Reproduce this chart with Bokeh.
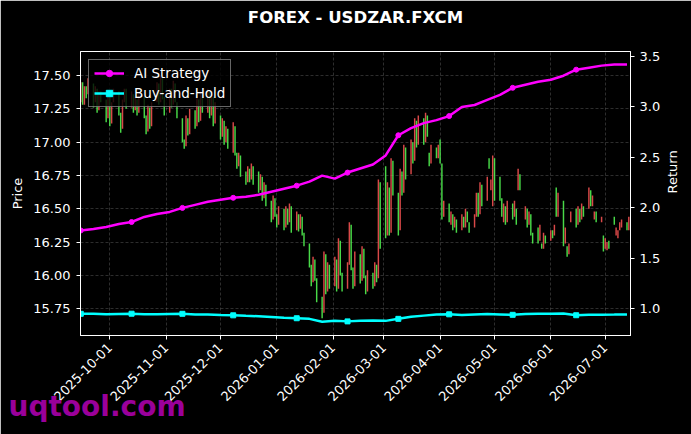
import math
import pandas as pd
from bokeh.plotting import figure
from bokeh.models import (Range1d, LinearAxis, DatetimeTickFormatter, MonthsTicker,
                          Legend, LegendItem, Title, ColumnDataSource,
                          NumeralTickFormatter, SingleIntervalTicker)
from bokeh.embed import file_html
from bokeh.resources import INLINE

# ---------------- data ----------------
title_text = "FOREX - USDZAR.FXCM"
price_label = "Price"
return_label = "Return"
watermark_text = "uqtool.com"

first_trading_day = "2025-09-15"
opens = [
    17.30, 17.45, 17.28, 17.42, 17.36,
    17.44, 17.30, 17.40, 17.24, 17.38,
    17.32, 17.18, 17.34, 17.14, 17.30,
    17.38, 17.22, 17.10, 17.30, 17.40,
    17.26, 17.36, 17.24, 17.32, 17.22,
    17.34, 17.20, 17.08, 17.26, 17.12,
    17.30, 17.44, 17.30, 17.48, 17.34,
    17.22, 17.40, 17.28, 17.44, 17.30,
    17.18, 17.02, 16.97, 17.18, 17.06,
    17.24, 17.12, 17.32, 17.16, 17.36,
    17.22, 17.38, 17.20, 17.34, 17.14,
    17.20, 17.04, 17.16, 17.00, 17.10,
    16.92, 17.12, 16.92, 16.82, 16.90,
    16.78, 16.70, 16.80, 16.72, 16.82,
    16.78, 16.64, 16.74, 16.58, 16.68,
    16.56, 16.42, 16.58, 16.46, 16.38,
    16.50, 16.36, 16.50, 16.40, 16.52,
    16.34, 16.46, 16.35, 16.44, 16.32,
    16.24, 16.08, 15.95, 16.12, 15.98,
    15.84, 15.72, 16.16, 15.88, 16.08,
    15.92, 16.12, 15.90, 16.26, 16.02,
    15.90, 16.08, 16.38, 16.06, 15.92,
    16.16, 15.96, 16.20, 16.00, 15.88,
    16.02, 15.92, 16.08, 15.98, 16.70,
    16.82, 16.30, 16.66, 16.32, 16.86,
    16.62, 16.34, 16.78, 16.62, 16.96,
    16.76, 17.00, 16.86, 17.16, 16.98,
    17.18, 17.00, 17.20, 16.92, 16.84,
    16.96, 16.88, 17.02, 16.84, 16.44,
    16.54, 16.38, 16.46, 16.36, 16.42,
    16.34, 16.44, 16.36, 16.48, 16.40,
    16.36, 16.44, 16.62, 16.46, 16.68,
    16.56, 16.88, 16.64, 16.52, 16.88,
    16.74, 16.58, 16.40, 16.52, 16.40,
    16.54, 16.44, 16.50, 16.64, 16.76,
    16.42, 16.50, 16.38, 16.46, 16.32,
    16.36, 16.26, 16.24, 16.20, 16.30,
    16.26, 16.34, 16.30, 16.66, 16.44,
    16.56, 16.24, 16.22, 16.16, 16.40,
    16.50, 16.38, 16.50, 16.42, 16.52,
    16.50, 16.64, 16.52, 16.42, 16.48,
    16.40, 16.30, 16.20, 16.19, 16.26,
    16.44, 16.30, 16.28, 16.34, 16.36,
    16.40, 16.34,
]
closes = [
    17.45, 17.28, 17.42, 17.33, 17.48,
    17.26, 17.42, 17.22, 17.38, 17.30,
    17.15, 17.36, 17.12, 17.30, 17.40,
    17.20, 17.07, 17.32, 17.40, 17.25,
    17.38, 17.22, 17.34, 17.20, 17.36,
    17.18, 17.06, 17.28, 17.10, 17.30,
    17.45, 17.28, 17.50, 17.32, 17.20,
    17.40, 17.26, 17.46, 17.30, 17.18,
    17.00, 16.95, 17.20, 17.05, 17.25,
    17.10, 17.34, 17.15, 17.38, 17.22,
    17.40, 17.18, 17.36, 17.12, 17.30,
    17.02, 17.18, 16.98, 17.12, 16.95,
    17.15, 16.90, 16.80, 16.92, 16.74,
    16.68, 16.82, 16.70, 16.84, 16.68,
    16.62, 16.76, 16.56, 16.70, 16.52,
    16.40, 16.60, 16.44, 16.36, 16.52,
    16.34, 16.52, 16.38, 16.54, 16.32,
    16.48, 16.33, 16.46, 16.30, 16.22,
    16.06, 15.92, 16.14, 15.96, 15.80,
    15.68, 16.18, 15.86, 16.10, 15.90,
    16.14, 15.88, 16.28, 16.00, 15.88,
    16.10, 16.40, 16.04, 15.90, 16.18,
    15.94, 16.22, 15.98, 15.86, 16.04,
    15.90, 16.10, 15.95, 16.72, 16.20,
    16.28, 16.70, 16.30, 16.88, 16.60,
    16.30, 16.80, 16.60, 16.98, 16.72,
    17.02, 16.84, 17.18, 16.96, 17.20,
    16.98, 17.22, 17.04, 16.82, 16.98,
    16.88, 16.98, 16.84, 16.42, 16.56,
    16.40, 16.48, 16.34, 16.44, 16.32,
    16.46, 16.36, 16.50, 16.40, 16.32,
    16.46, 16.62, 16.44, 16.70, 16.52,
    16.74, 16.80, 16.72, 16.90, 16.56,
    16.56, 16.44, 16.54, 16.38, 16.56,
    16.42, 16.56, 16.38, 16.80, 16.64,
    16.52, 16.36, 16.48, 16.30, 16.24,
    16.24, 16.38, 16.20, 16.32, 16.24,
    16.34, 16.28, 16.38, 16.44, 16.62,
    16.22, 16.36, 16.14, 16.24, 16.48,
    16.36, 16.52, 16.40, 16.54, 16.44,
    16.66, 16.52, 16.60, 16.48, 16.40,
    16.44, 16.18, 16.28, 16.25, 16.20,
    16.38, 16.36, 16.34, 16.40, 16.42,
    16.34, 16.44,
]

first_week = "2025-09-15"
ai_strategy = [
    1.776, 1.79, 1.81, 1.84, 1.86, 1.91, 1.94, 1.96, 2.00, 2.03,
    2.06, 2.08, 2.10, 2.11, 2.13, 2.16, 2.19, 2.22, 2.26, 2.32,
    2.29, 2.35, 2.39, 2.43, 2.52, 2.72, 2.79, 2.84, 2.87, 2.91,
    3.00, 3.02, 3.07, 3.12, 3.19, 3.22, 3.25, 3.27, 3.31, 3.37,
    3.39, 3.41, 3.42, 3.42,
]
buy_and_hold = [
    0.950, 0.950, 0.945, 0.948, 0.951, 0.946, 0.945, 0.948, 0.950, 0.944,
    0.942, 0.938, 0.935, 0.930, 0.926, 0.918, 0.910, 0.906, 0.900, 0.872,
    0.882, 0.875, 0.880, 0.884, 0.880, 0.900, 0.920, 0.932, 0.942, 0.945,
    0.938, 0.944, 0.948, 0.944, 0.940, 0.948, 0.950, 0.950, 0.952, 0.936,
    0.940, 0.941, 0.942, 0.944,
]
marker_weeks = [0, 4, 8, 12, 17, 21, 25, 29, 34, 39]

# ---------------- figure ----------------
days = pd.bdate_range(first_trading_day, periods=len(opens))
weeks = pd.date_range(first_week, periods=len(ai_strategy), freq="7D")

UP = "#ff5555"
DOWN = "#55ff55"
colors = [UP if c > o else DOWN for o, c in zip(opens, closes)]

FONT = "DejaVu Sans"
FW, FH = 550, 284

p = figure(x_axis_type="datetime", frame_width=FW, frame_height=FH,
           x_range=Range1d(pd.Timestamp("2025-09-14 20:24"), pd.Timestamp("2026-07-14 22:20")),
           y_range=Range1d(15.55, 17.68),
           output_backend="svg", toolbar_location=None,
           min_border_left=80, min_border_right=61, min_border_top=51, min_border_bottom=99,
           background_fill_color="black", border_fill_color="black")
p.outline_line_color = "white"
p.outline_line_width = 1

p.title = Title(text=title_text, align="center", vertical_align="bottom", standoff=0,
                text_color="white", text_font=FONT,
                text_font_size="16.5px", text_font_style="bold")
spacer = Title(text=" ", text_font_size="1px", standoff=22, text_color="black")
p.add_layout(spacer, "above")

p.extra_y_ranges = {"ret": Range1d(0.735, 3.55)}
rax = LinearAxis(y_range_name="ret", ticker=SingleIntervalTicker(interval=0.5),
                 formatter=NumeralTickFormatter(format="0.0"), axis_label=return_label)
p.add_layout(rax, "right")

p.yaxis[0].ticker = SingleIntervalTicker(interval=0.25)
p.yaxis[0].formatter = NumeralTickFormatter(format="0.00")
p.yaxis[0].axis_label = price_label

mt = MonthsTicker(months=list(range(12)))
p.xaxis[0].ticker = mt
fmt = "%Y-%m-%d"
p.xaxis[0].formatter = DatetimeTickFormatter(days=fmt, months=fmt, years=fmt, hours=fmt)
p.xaxis[0].major_label_orientation = math.pi / 4

for ax in [p.xaxis[0], p.yaxis[0], rax]:
    ax.axis_line_color = "white"
    ax.major_tick_line_color = "white"
    ax.minor_tick_line_color = None
    ax.major_tick_out = 4
    ax.major_tick_in = 0
    ax.major_label_text_color = "white"
    ax.major_label_text_font = FONT
    ax.major_label_text_font_size = "13px"
    ax.major_label_standoff = 6
    ax.axis_label_text_color = "white"
    ax.axis_label_text_font = FONT
    ax.axis_label_text_font_size = "13px"
    ax.axis_label_text_font_style = "normal"
    ax.axis_label_standoff = 5
rax.major_label_standoff = 5
rax.axis_label_standoff = 9
if "axis_label_orientation" in rax.properties():
    rax.axis_label_orientation = math.pi / 2

for g in [p.xgrid[0], p.ygrid[0]]:
    g.grid_line_color = "#808080"
    g.grid_line_alpha = 0.5
    g.grid_line_dash = "3 2"
    g.grid_line_width = 0.7

src = ColumnDataSource(dict(date=days, top=opens, bottom=closes, color=colors))
p.vbar(x="date", width=0.8 * 86400000, top="top", bottom="bottom",
       fill_color="color", line_color=None, fill_alpha=0.85, source=src)

mx = [weeks[i] for i in marker_weeks]
ai_line = p.line(weeks, ai_strategy, line_color="#ff00ff", line_width=2.5, y_range_name="ret")
ai_pts = p.scatter(mx, [ai_strategy[i] for i in marker_weeks], marker="circle", size=5,
                   color="#ff00ff", y_range_name="ret")
bh_line = p.line(weeks, buy_and_hold, line_color="#00ffff", line_width=2.5, y_range_name="ret")
bh_pts = p.scatter(mx, [buy_and_hold[i] for i in marker_weeks], marker="square", size=5,
                   color="#00ffff", y_range_name="ret")

legend = Legend(items=[LegendItem(label="AI Strategy", renderers=[ai_line, ai_pts]),
                       LegendItem(label="Buy-and-Hold", renderers=[bh_line, bh_pts])],
                location="top_left", margin=8, padding=5, spacing=4,
                glyph_width=30, glyph_height=16, label_height=16, label_standoff=10,
                label_text_color="white", label_text_font=FONT, label_text_font_size="13.5px",
                background_fill_color="black", background_fill_alpha=0.8,
                border_line_color="#cccccc", border_line_width=1)
p.add_layout(legend)

wm = Title(text=watermark_text, align="left", vertical_align="top", offset=-72, standoff=-38,
           text_color="#9a009a", text_font=FONT, text_font_size="28px", text_font_style="bold")
p.add_layout(wm, "below")

open("out.html", "w").write(file_html(p, INLINE))
